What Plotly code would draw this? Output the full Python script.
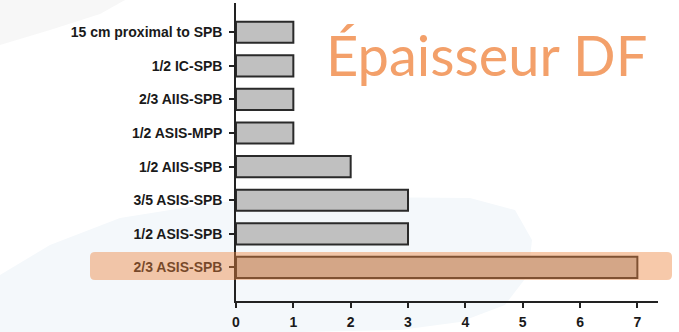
import plotly.graph_objects as go

categories = ["2/3 ASIS-SPB", "1/2 ASIS-SPB", "3/5 ASIS-SPB", "1/2 AIIS-SPB",
              "1/2 ASIS-MPP", "2/3 AIIS-SPB", "1/2 IC-SPB", "15 cm proximal to SPB"]
values = [7, 3, 3, 2, 1, 1, 1, 1]
x_ticks = [0, 1, 2, 3, 4, 5, 6, 7]
title_text = "Épaisseur DF"

W, H = 679, 332
ML, MR, MT, MB = 236, 21, 3, 31
PW, PH = W - ML - MR, H - MT - MB

def px_to_paper(px, py):
    return (px - ML) / PW, (H - MB - py) / PH

def rounded_rect(x0, y0, x1, y1, r):
    def P(x, y):
        a, b = px_to_paper(x, y)
        return f"{a:.5f},{b:.5f}"
    return (f"M {P(x0 + r, y0)} L {P(x1 - r, y0)} Q {P(x1, y0)} {P(x1, y0 + r)} "
            f"L {P(x1, y1 - r)} Q {P(x1, y1)} {P(x1 - r, y1)} L {P(x0 + r, y1)} "
            f"Q {P(x0, y1)} {P(x0, y1 - r)} L {P(x0, y0 + r)} Q {P(x0, y0)} {P(x0 + r, y0)} Z")

def blob_path(points):
    s = ""
    for i, (x, y) in enumerate(points):
        a, b = px_to_paper(x, y)
        s += ("M " if i == 0 else "L ") + f"{a:.5f},{b:.5f} "
    return s + "Z"

fig = go.Figure()
fig.add_trace(go.Bar(
    y=categories, x=values, orientation="h",
    marker=dict(color="#c0c0c0", line=dict(color="#2a2a2a", width=2)),
    width=0.63, hoverinfo="skip",
))

blue_blob = [(0, 275), (50, 245), (120, 218), (220, 202), (350, 197), (470, 198),
             (515, 210), (532, 240), (528, 275), (505, 305), (460, 322), (400, 330),
             (300, 332), (0, 332)]
gray_swoosh = [(0, 45), (50, 30), (100, 14), (125, 0), (0, 0)]

shapes = [
    dict(type="path", xref="paper", yref="paper", path=blob_path(blue_blob),
         fillcolor="#f4f8fb", line=dict(width=0), layer="below"),
    dict(type="path", xref="paper", yref="paper", path=blob_path(gray_swoosh),
         fillcolor="#f7f7f7", line=dict(width=0), layer="below"),
    dict(type="path", xref="paper", yref="paper",
         path=rounded_rect(90, 252, 672, 280, 5),
         fillcolor="rgba(237,133,61,0.44)", line=dict(width=0), layer="above"),
]

axis_common = dict(
    showgrid=False, zeroline=False, showline=True, linecolor="#222", linewidth=1.5,
    ticks="outside", ticklen=5, tickcolor="#222", tickwidth=1.5,
    tickfont=dict(size=14, family="Liberation Sans, Arial", weight="bold", color="#1a1a1a"),
    fixedrange=True,
)

fig.update_layout(
    width=W, height=H,
    margin=dict(l=ML, r=MR, t=MT, b=MB, pad=0),
    paper_bgcolor="white", plot_bgcolor="rgba(0,0,0,0)",
    showlegend=False,
    shapes=shapes,
    font=dict(family="Liberation Sans, Arial, sans-serif", color="#1a1a1a"),
    xaxis=dict(range=[0, 7.36], tickvals=x_ticks, ticklabelstandoff=2, **axis_common),
    yaxis=dict(type="category", range=[-1, 7.87], ticklabelstandoff=4, **axis_common),
    annotations=[dict(
        text=title_text, xref="paper", yref="paper",
        x=px_to_paper(324, 0)[0], y=px_to_paper(0, 55)[1],
        xanchor="left", yanchor="middle", showarrow=False,
        font=dict(family="Lato, sans-serif", size=56, color="#f3a06a"),
    )],
)

fig.write_html("out.html", config={"displayModeBar": False},
               post_script="document.body.style.margin='0';")
